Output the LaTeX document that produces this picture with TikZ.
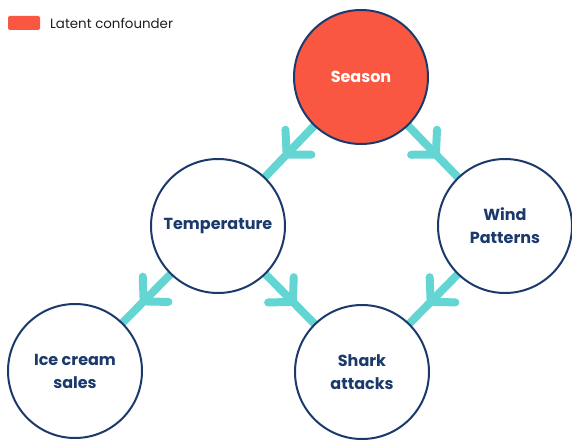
\documentclass[tikz,border=0pt]{standalone}
\usepackage{fontspec}
\setmainfont{Poppins}
\usetikzlibrary{decorations.markings,backgrounds}
\definecolor{confred}{HTML}{F95741}
\definecolor{navy}{HTML}{1B3A6B}
\definecolor{tealline}{HTML}{63D5D3}
\definecolor{legendtext}{HTML}{1E1E1E}
\tikzset{
  var/.style={circle, draw=navy, line width=2pt, fill=white, minimum size=134pt, inner sep=0pt,
    align=center, text=navy, font=\bfseries\fontsize{16}{23}\selectfont},
  latent/.style={var, fill=confred, text=white},
  causal/.style={draw=tealline, line width=8pt, line cap=round,
    postaction={decorate},
    decoration={markings, mark=at position 0.52 with {
      \draw[tealline, line width=8pt, line cap=round, line join=round]
        (-17pt,18pt) -- (0pt,0pt) -- (-17pt,-18pt);}}},
}
\begin{document}
\begin{tikzpicture}[x=1pt,y=-1pt]
\useasboundingbox (0,0) rectangle (572,441);
\node[latent] (season) at (361,77) {Season};
\node[var] (temp) at (218,226) {Temperature};
\node[var] (wind) at (505,226) {Wind\\Patterns};
\node[var] (ice) at (75,371) {Ice cream\\sales};
\node[var] (shark) at (362,372) {Shark\\attacks};
\begin{scope}[on background layer]
\draw[causal] (season.center) -- (temp.center);
\draw[causal] (season.center) -- (wind.center);
\draw[causal] (temp.center) -- (ice.center);
\draw[causal] (temp.center) -- (shark.center);
\draw[causal] (wind.center) -- (shark.center);
\end{scope}
\node[fill=confred, rounded corners=1.5pt, minimum width=32pt, minimum height=14pt, inner sep=0pt] (legbox) at (24,23) {};
\node[anchor=west, text=legendtext, font=\fontsize{13.4}{15}\selectfont, inner sep=0pt] (legtext) at (50,23) {Latent confounder};
\end{tikzpicture}
\end{document}
